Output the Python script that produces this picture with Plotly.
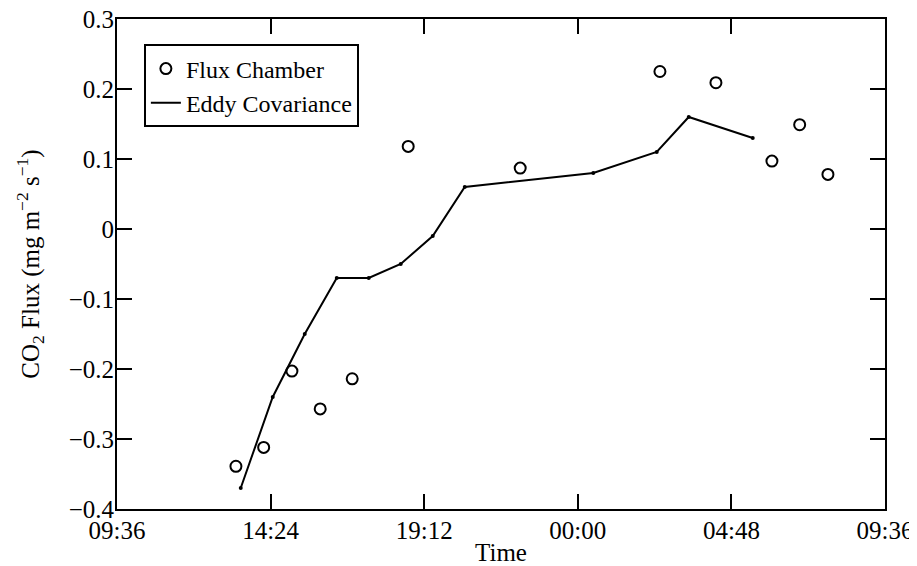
import plotly.graph_objects as go

# Flux chamber measurements
chamber_time = ["2000-01-01 13:19", "2000-01-01 14:11", "2000-01-01 15:04", "2000-01-01 15:57",
                "2000-01-01 16:57", "2000-01-01 18:42", "2000-01-01 22:12", "2000-01-02 02:34",
                "2000-01-02 04:19", "2000-01-02 06:04", "2000-01-02 06:56", "2000-01-02 07:49"]
chamber_flux = [-0.339, -0.312, -0.203, -0.257, -0.214, 0.118, 0.087, 0.225, 0.209, 0.097, 0.149, 0.078]

# Eddy covariance measurements
eddy_time = ["2000-01-01 13:28", "2000-01-01 14:28", "2000-01-01 15:28", "2000-01-01 16:28",
             "2000-01-01 17:28", "2000-01-01 18:28", "2000-01-01 19:28", "2000-01-01 20:28",
             "2000-01-02 00:29", "2000-01-02 02:28", "2000-01-02 03:28", "2000-01-02 05:28"]
eddy_flux = [-0.37, -0.24, -0.15, -0.07, -0.07, -0.05, -0.01, 0.06, 0.08, 0.11, 0.16, 0.13]

x_range = ["2000-01-01 09:36", "2000-01-02 09:36"]
y_range = [-0.4, 0.3]

FONT = "Liberation Serif, Times New Roman, serif"

fig = go.Figure()
fig.add_trace(go.Scatter(
    x=chamber_time, y=chamber_flux, mode="markers", name="Flux Chamber",
    marker=dict(symbol="circle-open", size=11, color="black", line=dict(width=2, color="black")),
))
fig.add_trace(go.Scatter(
    x=eddy_time, y=eddy_flux, mode="lines", name="Eddy Covariance",
    line=dict(color="black", width=2),
))
fig.add_trace(go.Scatter(
    x=eddy_time, y=eddy_flux, mode="markers", showlegend=False,
    marker=dict(symbol="circle", size=4, color="black"),
))

axis_common = dict(
    showline=True, linecolor="black", linewidth=2, mirror="ticks",
    ticks="inside", ticklen=15, tickwidth=1.5, tickcolor="black",
    showgrid=False, zeroline=False, automargin=False,
    ticklabeloverflow="allow",
    tickfont=dict(family=FONT, size=25, color="black"),
)

fig.update_xaxes(
    type="date", range=x_range, tick0=x_range[0], dtick=288 * 60 * 1000,
    tickformat="%H:%M", ticklabelstandoff=-2,
    title=dict(text="Time", font=dict(family=FONT, size=25, color="black"), standoff=0),
    **axis_common,
)
fig.update_yaxes(
    range=y_range, dtick=0.1, tick0=0, ticklabelstandoff=-4,
    title=dict(text="CO<sub>2</sub> Flux (mg m<sup>\u22122</sup> s<sup>\u22121</sup>)",
               font=dict(family=FONT, size=25, color="black"), standoff=22),
    **axis_common,
)

fig.update_layout(
    width=917, height=566,
    margin=dict(l=109, r=40, t=11, b=65),
    paper_bgcolor="white", plot_bgcolor="white",
    font=dict(family=FONT, size=24, color="black"),
    showlegend=True,
    legend=dict(
        x=0.035, y=0.948, xanchor="left", yanchor="top",
        bgcolor="white", bordercolor="black", borderwidth=2,
        font=dict(family=FONT, size=24, color="black"),
        itemwidth=30, tracegroupgap=0,
    ),
)

fig.write_html("out.html")
